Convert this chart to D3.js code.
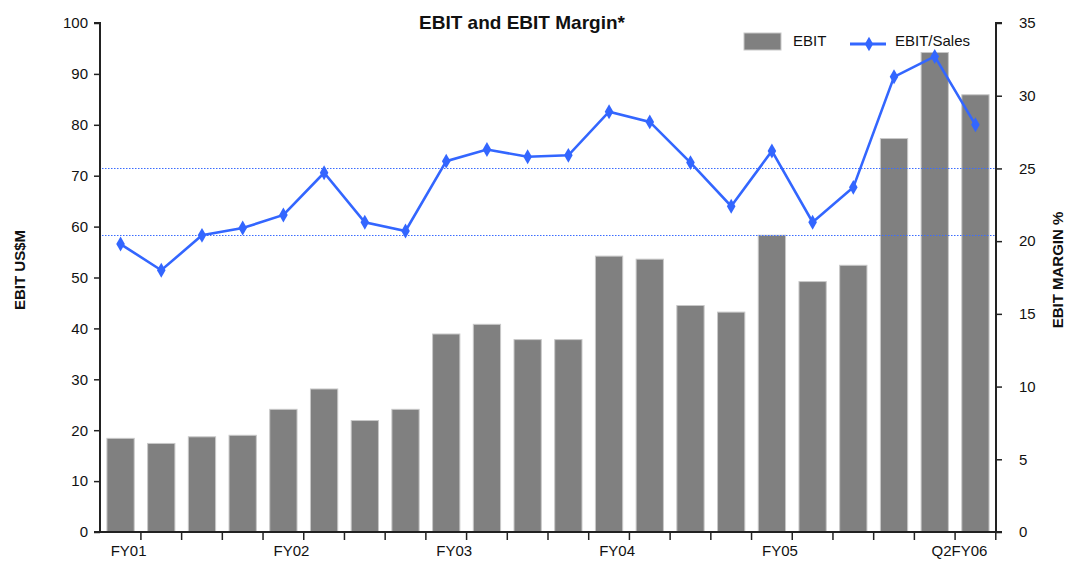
<!DOCTYPE html>
<html>
<head>
<meta charset="utf-8">
<script src="https://cdn.jsdelivr.net/npm/d3@7"></script>
<style>
  body { margin: 0; background: #fff; }
  text { font-family: "Liberation Sans", Arial, sans-serif; fill: #111; }
</style>
</head>
<body>
<div id="chart"></div>
<script>
// quarters FY01 Q1 .. FY06 Q2
const quarters = ['FY01Q1','FY01Q2','FY01Q3','FY01Q4','FY02Q1','FY02Q2','FY02Q3','FY02Q4',
                  'FY03Q1','FY03Q2','FY03Q3','FY03Q4','FY04Q1','FY04Q2','FY04Q3','FY04Q4',
                  'FY05Q1','FY05Q2','FY05Q3','FY05Q4','FY06Q1','FY06Q2'];
const quarterLabels = ['FY01','','','','FY02','','','','FY03','','','','FY04','','','','FY05','','','','','Q2FY06'];
const ebit = [18.4, 17.4, 18.7, 19.0, 24.1, 28.1, 21.9, 24.1, 38.9, 40.8, 37.8, 37.8,
              54.2, 53.6, 44.5, 43.2, 58.3, 49.2, 52.4, 77.3, 94.2, 85.9];
const margin = [19.8, 18.0, 20.4, 20.9, 21.8, 24.7, 21.3, 20.7, 25.5, 26.3, 25.8, 25.9,
                28.9, 28.2, 25.4, 22.4, 26.2, 21.3, 23.7, 31.3, 32.7, 28.0];
const leftTicks = [0, 10, 20, 30, 40, 50, 60, 70, 80, 90, 100];
const rightTicks = [0, 5, 10, 15, 20, 25, 30, 35];
const refLines = [25, 20.4];

const width = 1070, height = 583;
const m = {top: 23, right: 74, bottom: 51, left: 100};

const svg = d3.select('#chart').append('svg')
    .attr('width', width)
    .attr('height', height);

const x = d3.scaleBand()
    .domain(quarters)
    .range([m.left, width - m.right])
    .paddingInner(0.33)
    .paddingOuter(0.17);

const yL = d3.scaleLinear().domain([0, 100]).range([height - m.bottom, m.top]);
const yR = d3.scaleLinear().domain([0, 35]).range([height - m.bottom, m.top]);

// bars
svg.append('g').selectAll('rect')
    .data(ebit)
    .join('rect')
    .attr('x', (d, i) => x(quarters[i]))
    .attr('y', d => yL(d))
    .attr('width', x.bandwidth())
    .attr('height', d => yL(0) - yL(d))
    .attr('fill', '#808080')
    .attr('stroke', '#c8c8c8')
    .attr('stroke-width', 1);

// dotted reference lines
svg.append('g').selectAll('line')
    .data(refLines)
    .join('line')
    .attr('x1', m.left + 2)
    .attr('x2', width - m.right)
    .attr('y1', d => Math.round(yR(d)) + 0.5)
    .attr('y2', d => Math.round(yR(d)) + 0.5)
    .attr('stroke', '#3a6cff')
    .attr('stroke-width', 1.2)
    .attr('stroke-dasharray', '1.5,1.5');

// margin line
const cx = (d, i) => x(quarters[i]) + x.bandwidth() / 2;
const line = d3.line().x(cx).y(d => yR(d));
svg.append('path')
    .datum(margin)
    .attr('d', line)
    .attr('fill', 'none')
    .attr('stroke', '#3366ff')
    .attr('stroke-width', 2.6);

svg.append('g').selectAll('path')
    .data(margin)
    .join('path')
    .attr('transform', (d, i) => 'translate(' + cx(d, i) + ',' + yR(d) + ')')
    .attr('d', d3.symbol().type(d3.symbolDiamond).size(64))
    .attr('fill', '#3366ff');

// axes
const axisL = svg.append('g')
    .attr('transform', 'translate(' + m.left + ',0)')
    .call(d3.axisLeft(yL).tickValues(leftTicks).tickSize(6).tickPadding(6));
const axisR = svg.append('g')
    .attr('transform', 'translate(' + (width - m.right) + ',0)')
    .call(d3.axisRight(yR).tickValues(rightTicks).tickSize(6).tickPadding(17));
const axisB = svg.append('g')
    .attr('transform', 'translate(0,' + (height - m.bottom) + ')')
    .call(d3.axisBottom(x).tickSize(0).tickFormat((d, i) => quarterLabels[i]).tickPadding(13));

[axisL, axisR, axisB].forEach(a => {
    a.select('.domain').attr('stroke', '#222').attr('stroke-width', 2);
    a.selectAll('.tick line').attr('stroke', '#222').attr('stroke-width', 1.5);
    a.selectAll('text').style('font-size', '15px').attr('fill', '#111');
});
axisL.select('.domain').attr('d', 'M-6,' + yL(100) + 'H0V' + yL(0) + 'H-6');
axisR.select('.domain').attr('d', 'M6,' + yR(35) + 'H0V' + yR(0) + 'H6');
axisB.select('.domain').attr('d', 'M' + m.left + ',0H' + (width - m.right));
axisB.selectAll('.tick text')
    .attr('dx', (d, i) => i === quarters.length - 1 ? -16 : 8);

// category boundary ticks
svg.append('g').selectAll('line')
    .data(quarters)
    .join('line')
    .attr('x1', d => x(d) + x.bandwidth() + x.step() * x.paddingInner() / 2)
    .attr('x2', d => x(d) + x.bandwidth() + x.step() * x.paddingInner() / 2)
    .attr('y1', yL(0))
    .attr('y2', yL(0) + 8)
    .attr('stroke', '#222')
    .attr('stroke-width', 1.5);

// title
svg.append('text')
    .attr('x', 522)
    .attr('y', 29)
    .attr('text-anchor', 'middle')
    .style('font-size', '19px')
    .style('font-weight', 'bold')
    .text('EBIT and EBIT Margin*');

// axis titles
svg.append('text')
    .attr('transform', 'translate(25,' + 270 + ') rotate(-90)')
    .attr('text-anchor', 'middle')
    .style('font-size', '15px')
    .style('font-weight', 'bold')
    .text('EBIT US$M');
svg.append('text')
    .attr('transform', 'translate(1063,' + 270 + ') rotate(-90)')
    .attr('text-anchor', 'middle')
    .style('font-size', '15px')
    .style('font-weight', 'bold')
    .text('EBIT MARGIN %');

// legend
const lg = svg.append('g');
lg.append('rect')
    .attr('x', 744).attr('y', 33).attr('width', 37).attr('height', 17)
    .attr('fill', '#808080').attr('stroke', '#c8c8c8');
lg.append('text').attr('x', 793).attr('y', 46).style('font-size', '15px').text('EBIT');
lg.append('line')
    .attr('x1', 850).attr('x2', 886).attr('y1', 44).attr('y2', 44)
    .attr('stroke', '#3366ff').attr('stroke-width', 3);
lg.append('path')
    .attr('transform', 'translate(869,44)')
    .attr('d', d3.symbol().type(d3.symbolDiamond).size(60))
    .attr('fill', '#3366ff');
lg.append('text').attr('x', 895).attr('y', 46).style('font-size', '15px').text('EBIT/Sales');
</script>
</body>
</html>
